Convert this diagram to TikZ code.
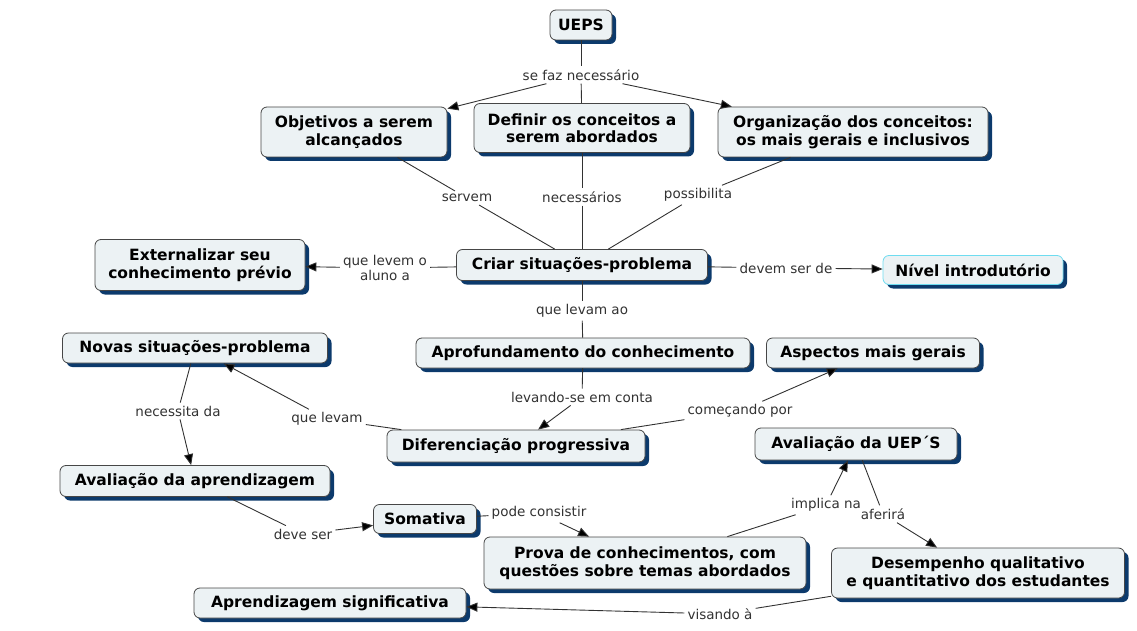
\documentclass[tikz,border=0pt]{standalone}
\usepackage{fontspec}
\setmainfont{DejaVu Sans}
\usetikzlibrary{arrows.meta,shadows}

\definecolor{boxfill}{RGB}{236,242,244}
\definecolor{boxline}{RGB}{70,70,70}
\definecolor{shadowblue}{RGB}{12,58,108}
\definecolor{linkgray}{RGB}{50,50,50}
\definecolor{cyanline}{RGB}{110,220,240}

\tikzset{
  concept/.style={shape=rectangle,rounded corners=6pt,draw=boxline,line width=0.8pt,fill=boxfill,
    align=center,inner sep=2pt,font=\fontsize{15.5}{17.5}\selectfont\bfseries,
    drop shadow={shadow xshift=4pt,shadow yshift=-4pt,fill=shadowblue,opacity=1}},
  link/.style={align=center,inner sep=3pt,text=linkgray,font=\fontsize{13.5}{14.5}\selectfont},
  conn/.style={draw=linkgray,line width=0.9pt},
  arr/.style={conn,-{Triangle[length=11pt,width=9pt]}}
}

\begin{document}
\begin{tikzpicture}[x=1pt,y=-1pt]
        \useasboundingbox (0,0) rectangle (1137,631);

        \node[concept,minimum width=62,minimum height=30]  (ueps)  at (581,25)  {UEPS};
        \node[concept,minimum width=186,minimum height=50] (obj)   at (354,132) {Objetivos a serem\\alcançados};
        \node[concept,minimum width=216,minimum height=49] (def)   at (582,128) {Definir os conceitos a\\serem abordados};
        \node[concept,minimum width=270,minimum height=50] (org)   at (853,132) {Organização dos conceitos:\\os mais gerais e inclusivos};
        \node[concept,minimum width=251,minimum height=31] (criar) at (582,265) {Criar situações-problema};
        \node[concept,minimum width=210,minimum height=51] (ext)   at (200,265) {Externalizar seu\\conhecimento prévio};
        \node[concept,minimum width=180,minimum height=29,draw=cyanline] (nivel) at (973,270) {Nível introdutório};
        \node[concept,minimum width=334,minimum height=30] (aprof) at (583,353) {Aprofundamento do conhecimento};
        \node[concept,minimum width=213,minimum height=30] (asp)   at (873,353) {Aspectos mais gerais};
        \node[concept,minimum width=265,minimum height=30] (novas) at (195,348) {Novas situações-problema};
        \node[concept,minimum width=258,minimum height=32] (dif)   at (516,446) {Diferenciação progressiva};
        \node[concept,minimum width=202,minimum height=32] (avuep) at (856,444) {Avaliação da UEP´S};
        \node[concept,minimum width=270,minimum height=31] (avap)  at (195,481) {Avaliação da aprendizagem};
        \node[concept,minimum width=103,minimum height=29] (soma)  at (425,519) {Somativa};
        \node[concept,minimum width=322,minimum height=52] (prova) at (645,563) {Prova de conhecimentos, com\\questões sobre temas abordados};
        \node[concept,minimum width=293,minimum height=50] (desemp) at (978,573) {Desempenho qualitativo\\e quantitativo dos estudantes};
        \node[concept,minimum width=272,minimum height=30] (aprsig) at (330,603) {Aprendizagem significativa};

        % linking phrases
        \node[link] (sefaz)   at (581,75)  {se faz necessário};
        \node[link] (servem)  at (467,198) {servem};
        \node[link] (necess)  at (582,197) {necessários};
        \node[link] (possib)  at (698,195) {possibilita};
        \node[link] (levemo)  at (385,268) {que levem o\\aluno a};
        \node[link] (devem)   at (786,268) {devem ser de};
        \node[link] (levamao) at (582,311) {que levam ao};
        \node[link] (levando) at (582,397) {levando-se em conta};
        \node[link] (quelevam) at (327,419) {que levam};
        \node[link] (comec)   at (740,411) {começando por};
        \node[link] (necessita) at (178,411) {necessita da};
        \node[link] (deveser) at (303,534) {deve ser};
        \node[link] (pode)    at (539,513) {pode consistir};
        \node[link] (implica) at (826,505) {implica na};
        \node[link] (aferira) at (883,514) {aferirá};
        \node[link] (visando) at (720,614) {visando à};

        \path [conn](ueps) edge (sefaz);
        \path [arr](sefaz) edge (obj);
        \path [conn](sefaz) edge (def);
        \path [arr](sefaz) edge (org);
        \path [conn](obj) edge (servem);
        \path [conn](servem) edge (criar);
        \path [conn](def) edge (necess);
        \path [conn](necess) edge (criar);
        \path [conn](org) edge (possib);
        \path [conn](possib) edge (criar);
        \path [conn](criar) edge (levemo);
        \path [arr](levemo) edge (ext);
        \path [conn](criar) edge (devem);
        \path [arr](devem) edge (nivel);
        \path [conn](criar) edge (levamao);
        \path [conn](levamao) edge (aprof);
        \path [conn](aprof) edge (levando);
        \path [arr](levando) edge (dif);
        \path [conn](dif) edge (quelevam);
        \path [arr](quelevam) edge (novas);
        \path [conn](dif) edge (comec);
        \path [arr](comec) edge (asp);
        \path [conn](novas) edge (necessita);
        \path [arr](necessita) edge (avap);
        \path [conn](avap) edge (deveser);
        \path [arr](deveser) edge (soma);
        \path [conn](soma) edge (pode);
        \path [arr](pode) edge (prova);
        \path [conn](prova) edge (implica);
        \path [arr](implica) edge (avuep);
        \path [conn](avuep) edge (aferira);
        \path [arr](aferira) edge (desemp);
        \path [conn](desemp) edge (visando);
        \path [arr](visando) edge (aprsig);
    \end{tikzpicture}
\end{document}
